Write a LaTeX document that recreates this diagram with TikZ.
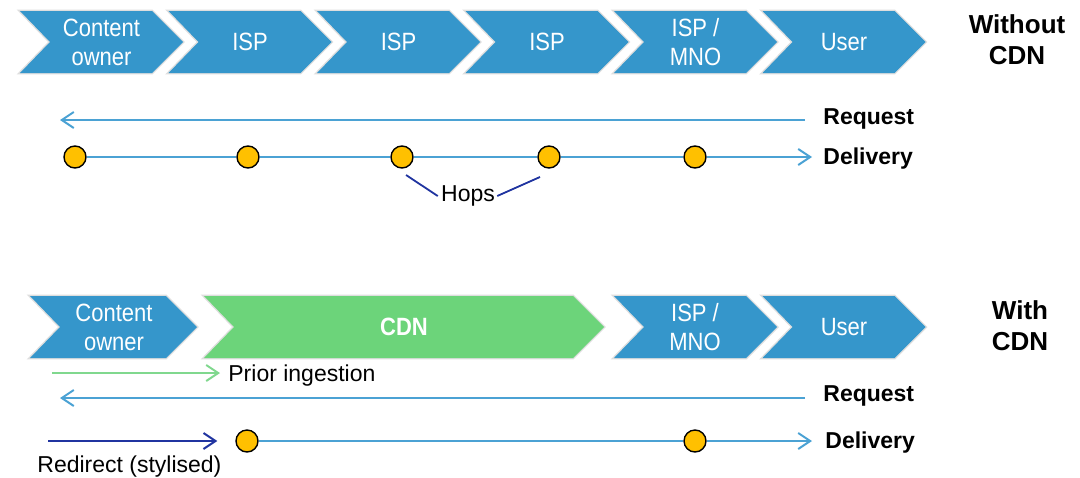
\documentclass[tikz,border=0pt]{standalone}
\usepackage{fontspec}
\setmainfont{Liberation Sans}
\newfontfamily\chevfont[FakeStretch=0.88]{Liberation Sans}
\usetikzlibrary{arrows.meta}

\definecolor{chevblue}{RGB}{53,150,203}
\definecolor{chevgreen}{RGB}{108,212,122}
\definecolor{hopyellow}{RGB}{255,192,0}
\definecolor{flowblue}{RGB}{75,162,212}
\definecolor{hopnavy}{RGB}{32,52,160}
\definecolor{ingestgreen}{RGB}{128,216,142}

\begin{document}
\begin{tikzpicture}[x=0.5pt,y=-0.5pt,
  chevron/.style={fill=#1,preaction={draw=black!13,line width=1.4pt,line join=miter}},
  chevtext/.style={text=white,font=\chevfont\fontsize{12.5}{14.5}\selectfont,align=center,inner sep=0pt},
  hop/.style={circle,draw=black,line width=0.7pt,fill=hopyellow,minimum size=11pt,inner sep=0pt},
  flow/.style={draw=flowblue,line width=1pt},
  barb/.style={-{Straight Barb[length=6pt,width=8pt]}},
  label/.style={font=\fontsize{11.5}{13}\selectfont,inner sep=0pt},
  legend/.style={font=\bfseries\fontsize{11.5}{13}\selectfont,anchor=west,inner sep=0pt},
  heading/.style={font=\bfseries\fontsize{13}{15.5}\selectfont,align=center,inner sep=0pt}]

  \useasboundingbox (0,0) rectangle (1080,477);

  % top row of chevrons
  \foreach \x/\txt [count=\i] in {20/{Content\\owner},168.5/ISP,317/ISP,465.5/ISP,614/{ISP /\\MNO},762.5/User}{
    \path[chevron=chevblue] (\x,11) -- ++(132,0) -- ++(31,31) -- ++(-31,31) -- ++(-132,0) -- ++(30,-31) -- cycle;
    \node[chevtext] (top\i) at (\x+81.5,42) {\txt};
  }

  % bottom row of chevrons
  \path[chevron=chevblue] (30,296) -- ++(136,0) -- ++(31,31) -- ++(-31,31) -- ++(-136,0) -- ++(30,-31) -- cycle;
  \node[chevtext] (co) at (114,327) {Content\\owner};
  \path[chevron=chevgreen] (204,296) -- ++(369,0) -- ++(31,31) -- ++(-31,31) -- ++(-369,0) -- ++(30,-31) -- cycle;
  \node[chevtext,font=\chevfont\bfseries\fontsize{12.5}{14.5}\selectfont] (cdn) at (404,327) {CDN};
  \path[chevron=chevblue] (614,296) -- ++(132,0) -- ++(31,31) -- ++(-31,31) -- ++(-132,0) -- ++(30,-31) -- cycle;
  \node[chevtext] (mno) at (695,327) {ISP /\\MNO};
  \path[chevron=chevblue] (762.5,296) -- ++(132,0) -- ++(31,31) -- ++(-31,31) -- ++(-132,0) -- ++(30,-31) -- cycle;
  \node[chevtext] (user) at (844,327) {User};

  \node[heading] (without) at (1017,40) {Without\\CDN};
  \node[heading] (with) at (1020,326) {With\\CDN};

  % without CDN: request and hop by hop delivery
  \coordinate (rqa) at (805,120);
  \coordinate (rqb) at (60,120);
  \draw[flow,barb] (rqa) -- (rqb);
  \node[legend] (rq) at (823,119) {Request};

  \node[hop] (h1) at (75,157) {};
  \node[hop] (h2) at (248,157) {};
  \node[hop] (h3) at (402,157) {};
  \node[hop] (h4) at (549,157) {};
  \node[hop] (h5) at (695,157) {};
  \coordinate (dv) at (812,157);
  \draw[flow] (h1) -- (h2) -- (h3) -- (h4) -- (h5);
  \draw[flow,barb] (h5) -- (dv);
  \node[legend] (del) at (823,159) {Delivery};

  \node[label] (hops) at (468,196) {Hops};
  \draw[hopnavy,line width=0.9pt] ([shift={(4,18)}]h3.center) -- ([shift={(-3,0)}]hops.west);
  \draw[hopnavy,line width=0.9pt] ([shift={(2,0)}]hops.east) -- ([shift={(-9,20)}]h4.center);

  % with CDN
  \coordinate (ing) at (52,373);
  \node[label,anchor=west] (ingest) at (228,376) {Prior ingestion};
  \draw[ingestgreen,line width=1pt,barb] (ing) -- ([xshift=-4pt]ingest.west |- ing);

  \coordinate (rqc) at (805,398);
  \coordinate (rqd) at (60,398);
  \draw[flow,barb] (rqc) -- (rqd);
  \node[legend] (rq2) at (823,396) {Request};

  \node[hop] (b1) at (247,441) {};
  \node[hop] (b2) at (695,441) {};
  \coordinate (dv2) at (812,441);
  \draw[flow] (b1) -- (b2);
  \draw[flow,barb] (b2) -- (dv2);
  \node[legend] (del2) at (825,443) {Delivery};

  \coordinate (rdr) at (48,441);
  \draw[hopnavy,line width=1pt,barb] (rdr) -- ([xshift=-9pt]b1.west);
  \node[label,anchor=west] (redir) at (37,467) {Redirect (stylised)};
\end{tikzpicture}
\end{document}
